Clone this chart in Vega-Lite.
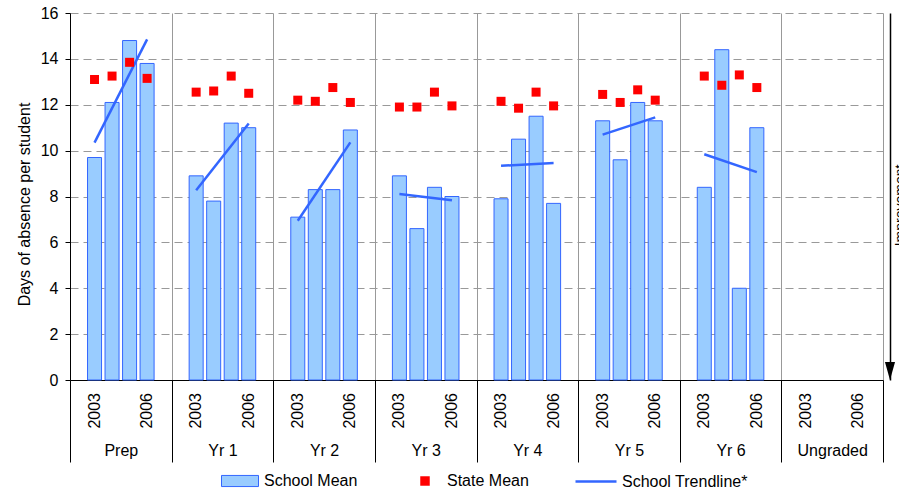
{
  "$schema": "https://vega.github.io/schema/vega-lite/v6.json",
  "width": 813,
  "height": 367,
  "autosize": {"type": "none"},
  "padding": {"left": 70, "top": 13, "right": 16, "bottom": 111},
  "background": "white",
  "config": {
    "view": {"stroke": null},
    "font": "Liberation Sans",
    "axis": {"labelFont": "Liberation Sans", "titleFont": "Liberation Sans", "labelColor": "black", "titleColor": "black", "titleFontWeight": "normal"},
    "legend": {"labelFont": "Liberation Sans", "labelFontSize": 16, "labelColor": "black", "symbolOpacity": 1, "title": null}
  },
  "datasets": {
    "school": [
      {"grade": "Prep", "year": 2003, "days": 9.7, "series": "School Mean"},
      {"grade": "Prep", "year": 2004, "days": 12.1, "series": "School Mean"},
      {"grade": "Prep", "year": 2005, "days": 14.8, "series": "School Mean"},
      {"grade": "Prep", "year": 2006, "days": 13.8, "series": "School Mean"},
      {"grade": "Yr 1", "year": 2003, "days": 8.9, "series": "School Mean"},
      {"grade": "Yr 1", "year": 2004, "days": 7.8, "series": "School Mean"},
      {"grade": "Yr 1", "year": 2005, "days": 11.2, "series": "School Mean"},
      {"grade": "Yr 1", "year": 2006, "days": 11.0, "series": "School Mean"},
      {"grade": "Yr 2", "year": 2003, "days": 7.1, "series": "School Mean"},
      {"grade": "Yr 2", "year": 2004, "days": 8.3, "series": "School Mean"},
      {"grade": "Yr 2", "year": 2005, "days": 8.3, "series": "School Mean"},
      {"grade": "Yr 2", "year": 2006, "days": 10.9, "series": "School Mean"},
      {"grade": "Yr 3", "year": 2003, "days": 8.9, "series": "School Mean"},
      {"grade": "Yr 3", "year": 2004, "days": 6.6, "series": "School Mean"},
      {"grade": "Yr 3", "year": 2005, "days": 8.4, "series": "School Mean"},
      {"grade": "Yr 3", "year": 2006, "days": 8.0, "series": "School Mean"},
      {"grade": "Yr 4", "year": 2003, "days": 7.9, "series": "School Mean"},
      {"grade": "Yr 4", "year": 2004, "days": 10.5, "series": "School Mean"},
      {"grade": "Yr 4", "year": 2005, "days": 11.5, "series": "School Mean"},
      {"grade": "Yr 4", "year": 2006, "days": 7.7, "series": "School Mean"},
      {"grade": "Yr 5", "year": 2003, "days": 11.3, "series": "School Mean"},
      {"grade": "Yr 5", "year": 2004, "days": 9.6, "series": "School Mean"},
      {"grade": "Yr 5", "year": 2005, "days": 12.1, "series": "School Mean"},
      {"grade": "Yr 5", "year": 2006, "days": 11.3, "series": "School Mean"},
      {"grade": "Yr 6", "year": 2003, "days": 8.4, "series": "School Mean"},
      {"grade": "Yr 6", "year": 2004, "days": 14.4, "series": "School Mean"},
      {"grade": "Yr 6", "year": 2005, "days": 4.0, "series": "School Mean"},
      {"grade": "Yr 6", "year": 2006, "days": 11.0, "series": "School Mean"}
    ],
    "state": [
      {"grade": "Prep", "year": 2003, "days": 13.1, "series": "State Mean"},
      {"grade": "Prep", "year": 2004, "days": 13.25, "series": "State Mean"},
      {"grade": "Prep", "year": 2005, "days": 13.85, "series": "State Mean"},
      {"grade": "Prep", "year": 2006, "days": 13.15, "series": "State Mean"},
      {"grade": "Yr 1", "year": 2003, "days": 12.55, "series": "State Mean"},
      {"grade": "Yr 1", "year": 2004, "days": 12.6, "series": "State Mean"},
      {"grade": "Yr 1", "year": 2005, "days": 13.25, "series": "State Mean"},
      {"grade": "Yr 1", "year": 2006, "days": 12.5, "series": "State Mean"},
      {"grade": "Yr 2", "year": 2003, "days": 12.2, "series": "State Mean"},
      {"grade": "Yr 2", "year": 2004, "days": 12.15, "series": "State Mean"},
      {"grade": "Yr 2", "year": 2005, "days": 12.75, "series": "State Mean"},
      {"grade": "Yr 2", "year": 2006, "days": 12.1, "series": "State Mean"},
      {"grade": "Yr 3", "year": 2003, "days": 11.9, "series": "State Mean"},
      {"grade": "Yr 3", "year": 2004, "days": 11.9, "series": "State Mean"},
      {"grade": "Yr 3", "year": 2005, "days": 12.55, "series": "State Mean"},
      {"grade": "Yr 3", "year": 2006, "days": 11.95, "series": "State Mean"},
      {"grade": "Yr 4", "year": 2003, "days": 12.15, "series": "State Mean"},
      {"grade": "Yr 4", "year": 2004, "days": 11.85, "series": "State Mean"},
      {"grade": "Yr 4", "year": 2005, "days": 12.55, "series": "State Mean"},
      {"grade": "Yr 4", "year": 2006, "days": 11.95, "series": "State Mean"},
      {"grade": "Yr 5", "year": 2003, "days": 12.45, "series": "State Mean"},
      {"grade": "Yr 5", "year": 2004, "days": 12.1, "series": "State Mean"},
      {"grade": "Yr 5", "year": 2005, "days": 12.65, "series": "State Mean"},
      {"grade": "Yr 5", "year": 2006, "days": 12.2, "series": "State Mean"},
      {"grade": "Yr 6", "year": 2003, "days": 13.25, "series": "State Mean"},
      {"grade": "Yr 6", "year": 2004, "days": 12.85, "series": "State Mean"},
      {"grade": "Yr 6", "year": 2005, "days": 13.3, "series": "State Mean"},
      {"grade": "Yr 6", "year": 2006, "days": 12.75, "series": "State Mean"}
    ],
    "trend": [
      {"grade": "Prep", "year": 2003, "days": 10.35, "series": "School Trendline*"},
      {"grade": "Prep", "year": 2006, "days": 14.85, "series": "School Trendline*"},
      {"grade": "Yr 1", "year": 2003, "days": 8.27, "series": "School Trendline*"},
      {"grade": "Yr 1", "year": 2006, "days": 11.18, "series": "School Trendline*"},
      {"grade": "Yr 2", "year": 2003, "days": 6.94, "series": "School Trendline*"},
      {"grade": "Yr 2", "year": 2006, "days": 10.36, "series": "School Trendline*"},
      {"grade": "Yr 3", "year": 2003, "days": 8.11, "series": "School Trendline*"},
      {"grade": "Yr 3", "year": 2006, "days": 7.84, "series": "School Trendline*"},
      {"grade": "Yr 4", "year": 2003, "days": 9.34, "series": "School Trendline*"},
      {"grade": "Yr 4", "year": 2006, "days": 9.46, "series": "School Trendline*"},
      {"grade": "Yr 5", "year": 2003, "days": 10.7, "series": "School Trendline*"},
      {"grade": "Yr 5", "year": 2006, "days": 11.45, "series": "School Trendline*"},
      {"grade": "Yr 6", "year": 2003, "days": 9.84, "series": "School Trendline*"},
      {"grade": "Yr 6", "year": 2006, "days": 9.06, "series": "School Trendline*"}
    ],
    "years": [
      {"grade": "Prep", "year": 2003}, {"grade": "Prep", "year": 2006},
      {"grade": "Yr 1", "year": 2003}, {"grade": "Yr 1", "year": 2006},
      {"grade": "Yr 2", "year": 2003}, {"grade": "Yr 2", "year": 2006},
      {"grade": "Yr 3", "year": 2003}, {"grade": "Yr 3", "year": 2006},
      {"grade": "Yr 4", "year": 2003}, {"grade": "Yr 4", "year": 2006},
      {"grade": "Yr 5", "year": 2003}, {"grade": "Yr 5", "year": 2006},
      {"grade": "Yr 6", "year": 2003}, {"grade": "Yr 6", "year": 2006},
      {"grade": "Ungraded", "year": 2003}, {"grade": "Ungraded", "year": 2006}
    ],
    "arrow": [{"grade": "Ungraded", "days": 0}]
  },
  "layer": [
    {
      "data": {"name": "school"},
      "mark": {"type": "bar", "stroke": "#3366FF", "strokeWidth": 1},
      "encoding": {
        "x": {
          "field": "grade", "type": "nominal", "sort": null,
          "scale": {"domain": ["Prep", "Yr 1", "Yr 2", "Yr 3", "Yr 4", "Yr 5", "Yr 6", "Ungraded"], "paddingInner": 0, "paddingOuter": 0},
          "axis": {
            "title": null, "tickBand": "extent", "tickSize": 82, "tickColor": "black", "domainColor": "black",
            "labelAngle": 0, "labelPadding": -20, "labelFontSize": 16, "labelColor": "black",
            "grid": true, "gridColor": "#999999", "gridWidth": 1
          }
        },
        "xOffset": {"field": "year", "type": "ordinal", "scale": {"domain": [2003, 2004, 2005, 2006], "paddingInner": 0.2, "paddingOuter": 1.09}},
        "y": {
          "field": "days", "type": "quantitative",
          "scale": {"domain": [0, 16], "nice": false},
          "axis": {
            "orient": "left", "title": "Days of absence per student", "titleFontSize": 16, "titlePadding": 8, "titleY": 191,
            "values": [0, 2, 4, 6, 8, 10, 12, 14, 16], "labelFontSize": 16, "labelPadding": 7,
            "tickSize": 5, "tickColor": "black", "domainColor": "black",
            "grid": true, "gridColor": "#999999", "gridDash": [8, 5]
          }
        },
        "fill": {
          "field": "series", "type": "nominal",
          "scale": {"domain": ["School Mean"], "range": ["#99CCFF"]},
          "legend": {
            "orient": "none", "legendX": 151, "legendY": 449,
            "symbolType": "M-1,-0.3L1,-0.3L1,0.3L-1,0.3Z", "symbolSize": 1369,
            "symbolStrokeColor": "#3366FF", "symbolStrokeWidth": 1, "labelOffset": 5
          }
        }
      }
    },
    {
      "data": {"name": "trend"},
      "mark": {"type": "line", "strokeWidth": 2.5},
      "encoding": {
        "x": {"field": "grade", "type": "nominal", "sort": null},
        "xOffset": {"field": "year", "type": "ordinal"},
        "y": {"field": "days", "type": "quantitative", "axis": null},
        "detail": {"field": "grade"},
        "stroke": {
          "field": "series", "type": "nominal",
          "scale": {"domain": ["School Trendline*"], "range": ["#3366FF"]},
          "legend": {
            "orient": "none", "legendX": 504, "legendY": 446.5,
            "symbolType": "M-1,0L1,0", "symbolSize": 1681, "symbolStrokeWidth": 2.5, "labelOffset": 4
          }
        }
      }
    },
    {
      "data": {"name": "state"},
      "mark": {"type": "square", "size": 81, "filled": true, "opacity": 1},
      "encoding": {
        "x": {"field": "grade", "type": "nominal", "sort": null},
        "xOffset": {"field": "year", "type": "ordinal"},
        "y": {"field": "days", "type": "quantitative", "axis": null},
        "color": {
          "field": "series", "type": "nominal",
          "scale": {"domain": ["State Mean"], "range": ["#FF0000"]},
          "legend": {
            "orient": "none", "legendX": 347, "legendY": 460,
            "symbolType": "square", "symbolSize": 90, "labelOffset": 14
          }
        }
      }
    },
    {
      "data": {"name": "years"},
      "mark": {"type": "text", "angle": 270, "align": "right", "baseline": "middle", "dx": -13, "fontSize": 16, "color": "black", "font": "Liberation Sans"},
      "encoding": {
        "x": {"field": "grade", "type": "nominal", "sort": null},
        "xOffset": {"field": "year", "type": "ordinal"},
        "y": {"datum": 0, "type": "quantitative", "axis": null},
        "text": {"field": "year", "type": "nominal"}
      }
    },
    {
      "data": {"name": "arrow"},
      "mark": {"type": "point", "shape": "M-0.28,-1L0.28,-1L0,0Z", "size": 1296, "filled": true, "color": "black", "opacity": 1, "xOffset": 7},
      "encoding": {
        "x": {"field": "grade", "type": "nominal", "sort": null, "bandPosition": 1},
        "y": {
          "field": "days", "type": "quantitative",
          "axis": {
            "orient": "right", "offset": 7, "domainColor": "black", "domainWidth": 1.5, "ticks": false, "labels": false, "grid": false,
            "title": "Improvement", "titleFontSize": 14, "titleAngle": 270, "titleBaseline": "top", "titlePadding": 3, "titleY": 192
          }
        }
      }
    }
  ],
  "resolve": {"axis": {"y": "independent"}}
}
